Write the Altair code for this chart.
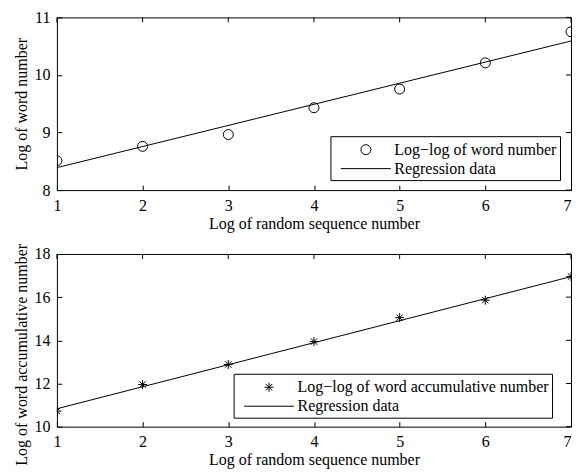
import altair as alt
import pandas as pd

# ---- data ----
x_seq = [1, 2, 3, 4, 5, 6, 7]
word_number = [8.51, 8.76, 8.965, 9.43, 9.755, 10.21, 10.75]
reg1_x = [1, 7]
reg1_y = [8.39, 10.59]

word_accum = [10.72, 11.95, 12.88, 13.94, 15.05, 15.86, 16.95]
reg2_x = [1, 7]
reg2_y = [10.83, 16.95]

x_ticks = [1, 2, 3, 4, 5, 6, 7]
y1_ticks = [8, 9, 10, 11]
y2_ticks = [10, 12, 14, 16, 18]

label1 = "Log\u2212log of word number"
label2 = "Log\u2212log of word accumulative number"
label_reg = "Regression data"
x_title = "Log of random sequence number"
y1_title = "Log of word number"
y2_title = "Log of word accumulative number"

# ---- styles ----
FONT = "Liberation Serif"
CIRCLE = "M-0.5,0A0.5,0.5 0 1,1 0.5,0A0.5,0.5 0 1,1 -0.5,0Z"
STAR = "M0,-0.45L0,0.45M-0.45,0L0.45,0M-0.32,-0.32L0.32,0.32M-0.32,0.32L0.32,-0.32"
LINE = "M-2.5,0L2.5,0"
W, H = 515, 173
TICK = 5


def panel(ys, rx, ry, ydom, yticks, ytitle, lab, shape_path, lx, ly, title_y):
    pts = pd.DataFrame({"x": x_seq, "y": ys, "series": [lab] * len(x_seq)})
    reg = pd.DataFrame({"x": rx, "y": ry})
    xt = pd.DataFrame({"t": x_ticks})
    yt = pd.DataFrame({"t": yticks})
    xs = alt.Scale(domain=[1, 7], nice=False, zero=False)
    ysc = alt.Scale(domain=ydom, nice=False, zero=False)
    common = dict(tickSize=TICK, offset=-TICK, domain=False, grid=False,
                  tickColor="black", tickWidth=1, minExtent=0,
                  labelFont=FONT, labelFontSize=16, labelColor="black",
                  titleFont=FONT, titleFontSize=16, titleColor="black",
                  titleFontWeight="normal")
    ax_bottom = alt.Axis(
        values=x_ticks, title=x_title, labelPadding=7, titlePadding=2,
        labelAlign={"condition": {"test": "datum.value == 7", "value": "right"},
                    "value": "center"},
        **common)
    ax_left = alt.Axis(values=yticks, title=ytitle, labelPadding=7,
                       titlePadding=4, titleY=title_y, **common)

    line = alt.Chart(reg).mark_line(color="black", strokeWidth=1).encode(
        x=alt.X("x:Q", scale=xs, axis=ax_bottom),
        y=alt.Y("y:Q", scale=ysc, axis=ax_left),
    )
    # mirrored inward ticks on the top and right edges of the box
    top_ticks = alt.Chart(xt).mark_rule(color="black", strokeWidth=1).encode(
        x=alt.X("t:Q", scale=xs, axis=ax_bottom),
        y=alt.value(0), y2=alt.value(TICK),
    )
    right_ticks = alt.Chart(yt).mark_rule(color="black", strokeWidth=1).encode(
        y=alt.Y("t:Q", scale=ysc, axis=ax_left),
        x=alt.value(W - TICK), x2=alt.value(W),
    )
    points = alt.Chart(pts).mark_point(
        filled=False, color="black", strokeWidth=1, size=400, opacity=1, clip=True
    ).encode(
        x=alt.X("x:Q", scale=xs, axis=ax_bottom),
        y=alt.Y("y:Q", scale=ysc, axis=ax_left),
        shape=alt.Shape(
            "series:N",
            scale=alt.Scale(domain=[lab, label_reg], range=[shape_path, LINE]),
            legend=alt.Legend(
                title=None, orient="none", legendX=lx, legendY=ly,
                strokeColor="black", fillColor="white", padding=3,
                symbolSize=400, symbolOffset=22, labelOffset=18,
                symbolStrokeColor="black", symbolStrokeWidth=1,
                symbolFillColor="transparent",
                labelFont=FONT, labelFontSize=16, labelColor="black",
                labelLimit=0, rowPadding=0,
            ),
        ),
    )
    return alt.layer(line, top_ticks, right_ticks, points).properties(width=W, height=H)


top = panel(word_number, reg1_x, reg1_y, [8, 11], y1_ticks, y1_title,
            label1, CIRCLE, 274, 119, H / 2)
bottom = panel(word_accum, reg2_x, reg2_y, [10, 18], y2_ticks, y2_title,
               label2, STAR, 177, 120, H / 2 + 14)

chart = alt.vconcat(top, bottom, spacing=10).resolve_scale(
    shape="independent"
).resolve_legend(shape="independent").configure(
    background="white",
    padding={"left": 5, "top": 0, "right": 0, "bottom": 0},
).configure_view(stroke="black", strokeWidth=1, fill="white")

chart.save("out.html", embed_options={"renderer": "svg", "actions": False})
